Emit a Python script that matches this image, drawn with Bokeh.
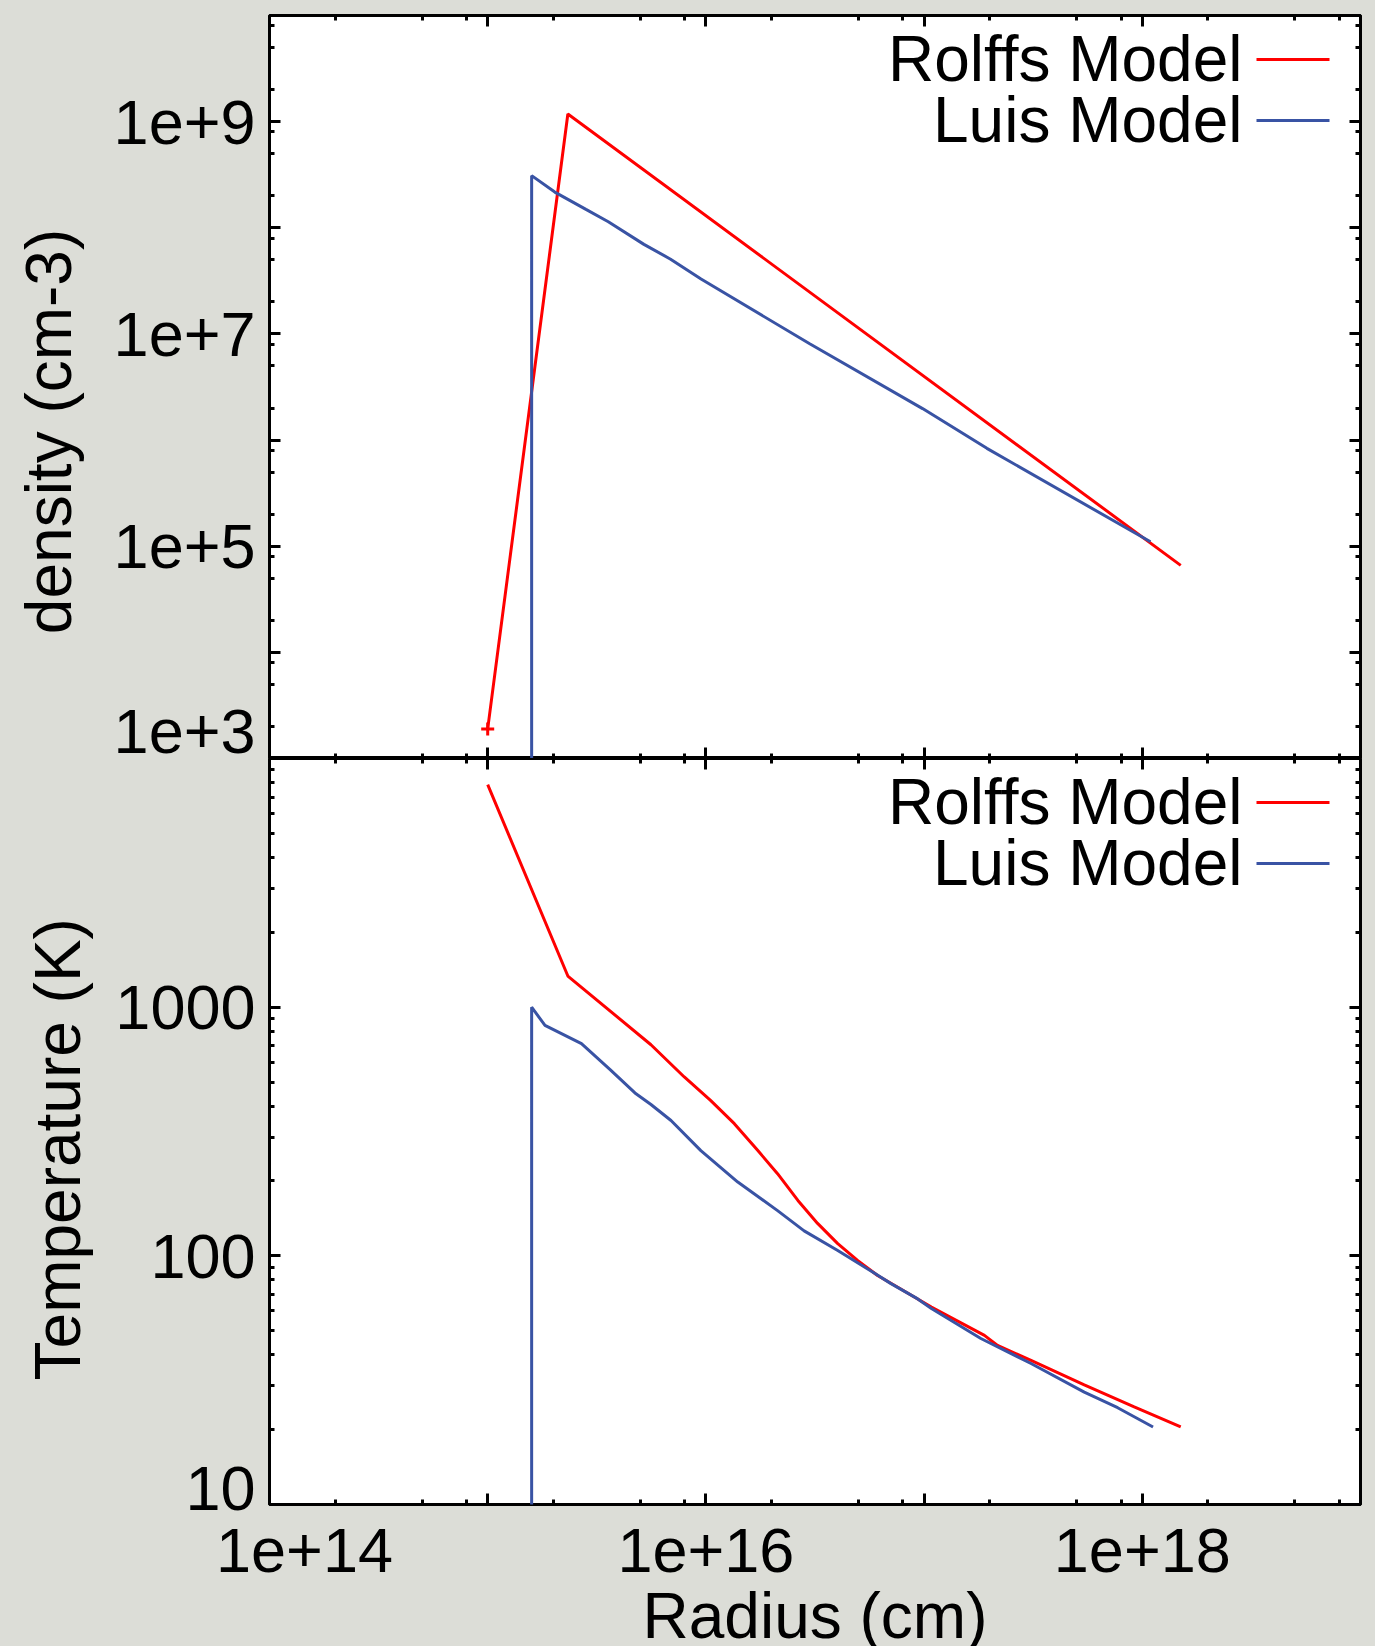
from bokeh.plotting import figure
from bokeh.layouts import column
from bokeh.models import LogAxis, FixedTicker, CustomJSTickFormatter, Label, BoxAnnotation, Range1d
from bokeh.embed import file_html
from bokeh.resources import INLINE

# ---------------- data ----------------
rolffs_density_r = [1.0e15, 2.33e15, 1.50e18]
rolffs_density_n = [1.9e3, 1.18e9, 6.6e4]

luis_density_r = [1.59e15, 1.59e15, 2.03e15, 2.82e15, 3.57e15, 5.20e15, 6.89e15,
                  9.50e15, 2.99e16, 9.84e16, 1.94e17, 1.09e18]
luis_density_n = [1.0, 3.1e8, 2.17e8, 1.49e8, 1.14e8, 6.98e7, 5.06e7,
                  3.29e7, 8.07e6, 1.98e6, 8.36e5, 1.10e5]

rolffs_temp_r = [1.0e15, 2.33e15, 5.6e15, 7.96e15, 1.05e16, 1.35e16, 1.73e16, 2.13e16,
                 2.64e16, 3.25e16, 4.02e16, 4.97e16, 6.12e16, 7.57e16, 9.35e16, 1.08e17,
                 1.89e17, 2.17e17, 3.09e17, 5.42e17, 9.18e17, 1.50e18]
rolffs_temp_t = [7850, 1334, 706, 524, 422, 340, 265, 214,
                 167, 135, 112, 95.7, 83.4, 74.8, 67.1, 62.2,
                 47.9, 43.6, 38.0, 30.3, 24.7, 20.5]

luis_temp_r = [1.59e15, 1.59e15, 1.83e15, 2.69e15, 3.65e15, 4.73e15, 5.6e15, 6.92e15,
               9.48e15, 1.40e16, 2.13e16, 2.82e16, 4.02e16, 5.71e16, 7.05e16, 9.35e16,
               1.08e17, 1.82e17, 3.09e17, 5.42e17, 7.71e17, 1.12e18]
luis_temp_t = [1.0, 1000, 845, 713, 560, 452, 406, 350,
               265, 198, 152, 126, 105, 86.9, 77.3, 67.1,
               61.4, 46.5, 36.9, 28.3, 24.5, 20.5]

series_names = ["Rolffs Model", "Luis Model"]

x_tick_values = [1e14, 1e15, 1e16, 1e17, 1e18, 1e19]
x_tick_labels = ["1e+14", "", "1e+16", "", "1e+18", ""]
density_tick_values = [1e3, 1e4, 1e5, 1e6, 1e7, 1e8, 1e9, 1e10]
density_tick_labels = ["1e+3", "", "1e+5", "", "1e+7", "", "1e+9", ""]
temp_tick_values = [10, 100, 1000, 10000]
temp_tick_labels = ["10", "100", "1000", ""]
minor_258 = [2, 5, 8]
minor_all = [2, 3, 4, 5, 6, 7, 8, 9]

# ---------------- style ----------------
FONT = "Liberation Sans"
BG = "#dcddd7"
RED = "#ff0000"
BLUE = "#3953a4"
TICK_FS = "63px"
TITLE_FS = "64px"
FRAME_W = 1091
LEFT = 269
NBSP = "\u00a0"


def minor_list(majors, mults):
    return [m * v for v in majors[:-1] for m in mults]


def style_axis(ax, majors, mults, labels=None):
    ax.ticker = FixedTicker(ticks=majors, minor_ticks=minor_list(majors, mults))
    ax.axis_line_color = None
    ax.major_tick_in = 11
    ax.major_tick_out = 0
    ax.minor_tick_in = 5
    ax.minor_tick_out = 0
    ax.major_tick_line_width = 3
    ax.minor_tick_line_width = 3
    ax.major_tick_line_color = "black"
    ax.minor_tick_line_color = "black"
    if labels is None:
        ax.formatter = CustomJSTickFormatter(code="return ''")
        ax.major_label_text_font_size = "0px"
        ax.major_label_standoff = 0
    else:
        ax.major_label_overrides = {v: l for v, l in zip(majors, labels)}
        ax.major_label_text_font = FONT
        ax.major_label_text_font_size = TICK_FS
        ax.major_label_text_color = "black"
        ax.major_label_standoff = 14
    ax.axis_label_text_font = FONT
    ax.axis_label_text_font_size = TITLE_FS
    ax.axis_label_text_font_style = "normal"
    ax.axis_label_text_color = "black"


def make_panel(y_lo, y_hi, frame_h, top_border, y_vals, y_labels, y_mults, x_labels):
    p = figure(x_axis_type="log", y_axis_type="log",
               x_range=Range1d(x_tick_values[0], x_tick_values[-1]),
               y_range=Range1d(y_lo, y_hi),
               frame_width=FRAME_W, frame_height=frame_h,
               min_border_left=LEFT, min_border_right=15,
               min_border_top=top_border, min_border_bottom=0,
               output_backend="svg", toolbar_location=None,
               background_fill_color="white", border_fill_color=BG,
               outline_line_color="black", outline_line_width=3)
    p.grid.visible = False
    bottom_ax = p.below[0]
    left_ax = p.left[0]
    style_axis(bottom_ax, x_tick_values, minor_258, x_labels)
    style_axis(left_ax, y_vals, y_mults, y_labels)
    top_ax = LogAxis()
    style_axis(top_ax, x_tick_values, minor_258, None)
    p.add_layout(top_ax, "above")
    right_ax = LogAxis()
    style_axis(right_ax, y_vals, y_mults, None)
    p.add_layout(right_ax, "right")
    return p, bottom_ax, left_ax


def add_legend(p, frame_h):
    # rows: text right-aligned, line sample to its right (as in the reference)
    for i, (name, col) in enumerate(zip(series_names, [RED, BLUE])):
        line_y = frame_h - (44 + 61 * i)
        p.add_layout(Label(x=973, y=line_y + 1, x_units="screen", y_units="screen",
                           text=name, text_align="right", text_baseline="middle",
                           text_font=FONT, text_font_size=TITLE_FS, text_color="black"))
        p.add_layout(BoxAnnotation(left=987, right=1060, bottom=line_y - 1.5, top=line_y + 1.5,
                                   left_units="screen", right_units="screen",
                                   bottom_units="screen", top_units="screen",
                                   fill_color=col, fill_alpha=1, line_alpha=0))


def lift_first(labels):
    # the lowest tick label sits just above the frame edge: pad with an empty second line
    return [labels[0] + "\n" + NBSP] + labels[1:]


def shift_first_right(labels, n=4):
    # the first x label is pushed inward, clear of the corner
    return [NBSP * n + labels[0]] + labels[1:]


# ---------------- top panel: density ----------------
FRAME_H_TOP = 743
p1, p1_bottom, p1_left = make_panel(density_tick_values[0], density_tick_values[-1],
                                    FRAME_H_TOP, 15, density_tick_values,
                                    lift_first(density_tick_labels), minor_258, None)
p1_left.major_label_text_line_height = -0.11
p1_left.axis_label = "density (cm-3)" + NBSP * 5
p1_left.axis_label_standoff = 26
p1.line(rolffs_density_r, rolffs_density_n, line_color=RED, line_width=3)
p1.scatter(rolffs_density_r[:1], rolffs_density_n[:1], marker="cross", size=13,
           line_color=RED, line_width=3)
p1.line(luis_density_r, luis_density_n, line_color=BLUE, line_width=3)
add_legend(p1, FRAME_H_TOP)

# ---------------- bottom panel: temperature ----------------
FRAME_H_BOT = 746
p2, p2_bottom, p2_left = make_panel(temp_tick_values[0], temp_tick_values[-1],
                                    FRAME_H_BOT, 0, temp_tick_values,
                                    lift_first(temp_tick_labels), minor_all,
                                    shift_first_right(x_tick_labels))
p2_left.major_label_text_line_height = 0.46
p2_left.axis_label = "Temperature (K)" + NBSP * 2
p2_left.axis_label_standoff = 18
p2_bottom.axis_label = "Radius (cm)"
p2_bottom.major_label_standoff = 10
p2_bottom.axis_label_standoff = -8
p2.line(rolffs_temp_r, rolffs_temp_t, line_color=RED, line_width=3)
p2.line(luis_temp_r, luis_temp_t, line_color=BLUE, line_width=3)
add_legend(p2, FRAME_H_BOT)

layout = column(p1, p2, spacing=0)
layout.styles = {"background-color": BG}

html = file_html(layout, INLINE, title="Rolffs vs Luis model")
html = html.replace("</head>",
                    "<style>html,body{margin:0;padding:0;overflow:hidden;background:%s;}</style></head>" % BG, 1)
open("out.html", "w").write(html)
